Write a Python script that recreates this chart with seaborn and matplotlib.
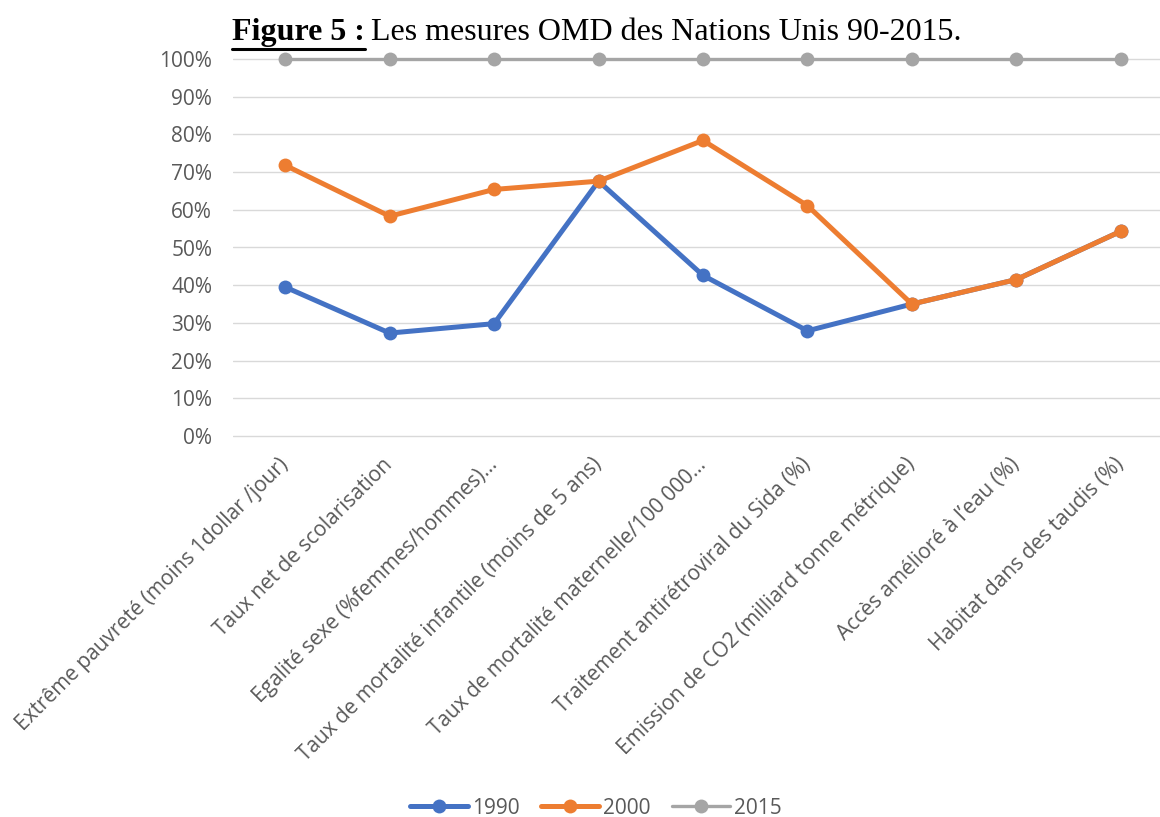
import matplotlib
matplotlib.use("Agg")
import pandas as pd
import seaborn as sns
import matplotlib.pyplot as plt
from matplotlib.lines import Line2D
from matplotlib.ticker import PercentFormatter

# Couleurs (style Excel)
bleu = "#4472C4"
orange = "#ED7D31"
gris = "#A5A5A5"
texte = "#595959"

categories = [
    "Extrême pauvreté (moins 1dollar /jour)",
    "Taux net de scolarisation",
    "Egalité sexe (%femmes/hommes)…",
    "Taux de mortalité infantile (moins de 5 ans)",
    "Taux de mortalité maternelle/100 000…",
    "Traitement antirétroviral du Sida (%)",
    "Emission de CO2 (milliard tonne métrique)",
    "Accès amélioré à l’eau (%)",
    "Habitat dans des taudis (%)",
]
valeurs_1990 = [0.395, 0.273, 0.298, 0.676, 0.426, 0.279, 0.350, 0.415, 0.543]
valeurs_2000 = [0.718, 0.583, 0.654, 0.676, 0.784, 0.611, 0.350, 0.415, 0.543]
valeurs_2015 = [1.0, 1.0, 1.0, 1.0, 1.0, 1.0, 1.0, 1.0, 1.0]

series = [("1990", valeurs_1990, bleu, 3.6),
          ("2000", valeurs_2000, orange, 3.6),
          ("2015", valeurs_2015, gris, 2.4)]

sns.set_theme(style="white")
plt.rcParams["font.family"] = ["Open Sans", "DejaVu Sans"]
taille = 15

W, H = 1160, 817
marge = 0.02
haut_px = 377 * (1 + 2 * marge)
fig = plt.figure(figsize=(11.6, 8.17), dpi=100)
ax = fig.add_axes([233 / W, (H - 436 - 377 * marge) / H, 940 / W, haut_px / H])

for nom, vals, couleur, lw in series:
    df = pd.DataFrame({"x": categories, "y": vals})
    sns.lineplot(data=df, x="x", y="y", ax=ax, color=couleur, linewidth=lw,
                 marker="o", markersize=10, markeredgewidth=0, label=nom,
                 sort=False, clip_on=False)

ax.set_xlim(-0.5, 8.5)
ax.set_ylim(-marge, 1 + marge)
ax.set_yticks([i / 10 for i in range(11)])
ax.yaxis.set_major_formatter(PercentFormatter(1.0, decimals=0))
ax.grid(axis="y", color="#D9D9D9", linewidth=1.0)
ax.set_axisbelow(True)
for s in ax.spines.values():
    s.set_visible(False)
ax.set_xlabel("")
ax.set_ylabel("")
ax.tick_params(axis="y", length=0, pad=15, labelsize=taille, labelcolor=texte)
ax.tick_params(axis="x", length=0, pad=13, labelsize=taille, labelcolor=texte)
ax.set_xticks(range(len(categories)))
ax.set_xticklabels(categories, rotation=45, ha="right", va="center",
                   rotation_mode="anchor")

ax.legend_.remove()
handles = [Line2D([0], [0], color=c, lw=lw, marker="o", markersize=10,
                  markeredgewidth=0) for _, _, c, lw in series]
leg = fig.legend(handles, [s[0] for s in series], loc="center",
                 bbox_to_anchor=(596 / W, 1 - 808 / H), ncol=3,
                 frameon=False, fontsize=taille, handlelength=2.8,
                 columnspacing=1.0, handletextpad=0.2)
for t in leg.get_texts():
    t.set_color(texte)

# Titre avec "Figure 5 :" souligné
y_titre = 1 - 40 / H
t1 = fig.text(232 / W, y_titre, "Figure 5 :", fontsize=23, fontweight="bold",
              family="Liberation Serif", color="black", va="baseline")
fig.canvas.draw()
bb = t1.get_window_extent()
fig.text(bb.x1 / W + 0.005, y_titre, "Les mesures OMD des Nations Unis 90-2015.",
         fontsize=23, family="Liberation Serif", color="black", va="baseline")
y_ligne = (bb.y0 - 1.5) / H
fig.add_artist(Line2D([bb.x0 / W, bb.x1 / W], [y_ligne, y_ligne],
                      color="black", linewidth=2.2, transform=fig.transFigure))

fig.savefig("out.png", dpi=100)
